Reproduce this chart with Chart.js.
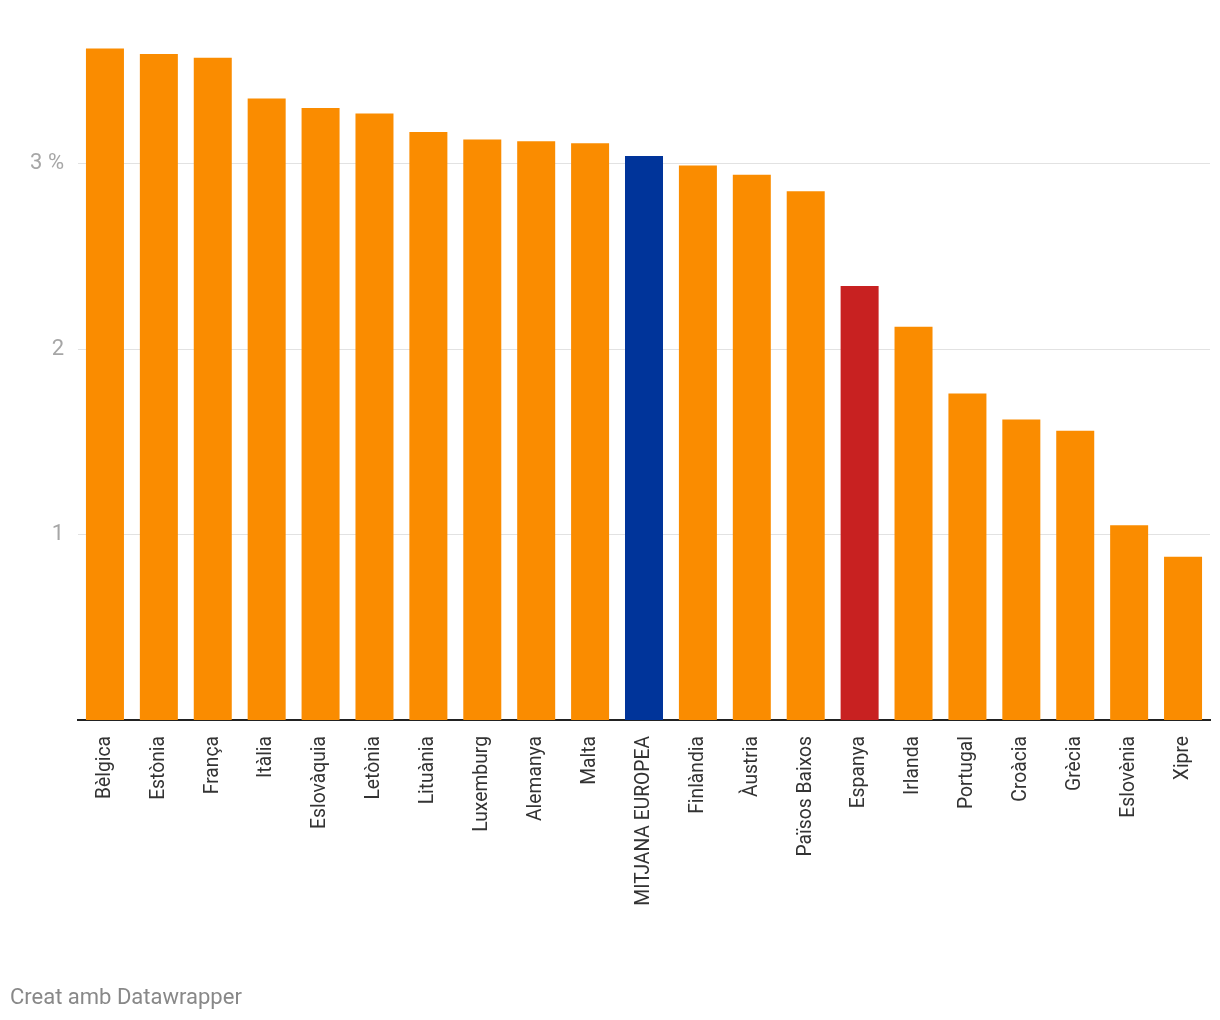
<!DOCTYPE html>
<html>
<head>
<meta charset="utf-8">
<script src="https://cdn.jsdelivr.net/npm/chart.js@4"></script>
<style>
  html, body { margin: 0; padding: 0; background: #fff; }
  #wrap { position: relative; width: 1220px; height: 1020px; }
  #footer { position: absolute; left: 10px; top: 983px; font: 22px Roboto, sans-serif; color: #888; line-height: 28px; }
</style>
</head>
<body>
<div id="wrap">
  <canvas id="chart" width="1220" height="1020"></canvas>
  <div id="footer">Creat amb Datawrapper</div>
</div>
<script>
// dades
const countries = ['Bèlgica', 'Estònia', 'França', 'Itàlia', 'Eslovàquia', 'Letònia', 'Lituània', 'Luxemburg',
    'Alemanya', 'Malta', 'MITJANA EUROPEA', 'Finlàndia', 'Àustria', 'Països Baixos', 'Espanya', 'Irlanda',
    'Portugal', 'Croàcia', 'Grècia', 'Eslovènia', 'Xipre'];
const values = [3.62, 3.59, 3.57, 3.35, 3.30, 3.27, 3.17, 3.13, 3.12, 3.11, 3.04, 2.99, 2.94, 2.85, 2.34, 2.12,
    1.76, 1.62, 1.56, 1.05, 0.88];
const yTicks = [1, 2, 3];

const ORANGE = '#fa8c00', BLUE = '#00349a', RED = '#c82121';
const barColors = countries.map(c => c === 'MITJANA EUROPEA' ? BLUE : (c === 'Espanya' ? RED : ORANGE));

new Chart(document.getElementById('chart'), {
    type: 'bar',
    data: {
        labels: countries,
        datasets: [{ data: values, backgroundColor: barColors, barPercentage: 0.705, categoryPercentage: 1 }]
    },
    options: {
        responsive: false,
        animation: false,
        layout: { padding: { top: 4, right: 10, left: 0, bottom: 0 } },
        plugins: { legend: { display: false }, tooltip: { enabled: false } },
        scales: {
            x: {
                grid: { display: false, drawTicks: false },
                border: { display: true, color: '#222', width: 2 },
                ticks: {
                    color: '#333', font: { family: 'Roboto', size: 19.3 },
                    minRotation: 90, maxRotation: 90, autoSkip: false, padding: 16
                },
                afterFit: s => { s.height = 300; s.paddingLeft = 0; s.paddingRight = 0; }
            },
            y: {
                min: 0, max: 3.735,
                grid: { color: '#e2e2e2', lineWidth: 1, drawTicks: false },
                border: { display: false },
                afterBuildTicks: s => { s.ticks = yTicks.map(v => ({ value: v })); },
                ticks: {
                    color: '#a6a6a6', font: { family: 'Roboto', size: 22 }, padding: 14,
                    callback: v => v === 3 ? '3 %' : String(v)
                },
                afterFit: s => { s.width = 78; }
            }
        }
    }
});
</script>
</body>
</html>
